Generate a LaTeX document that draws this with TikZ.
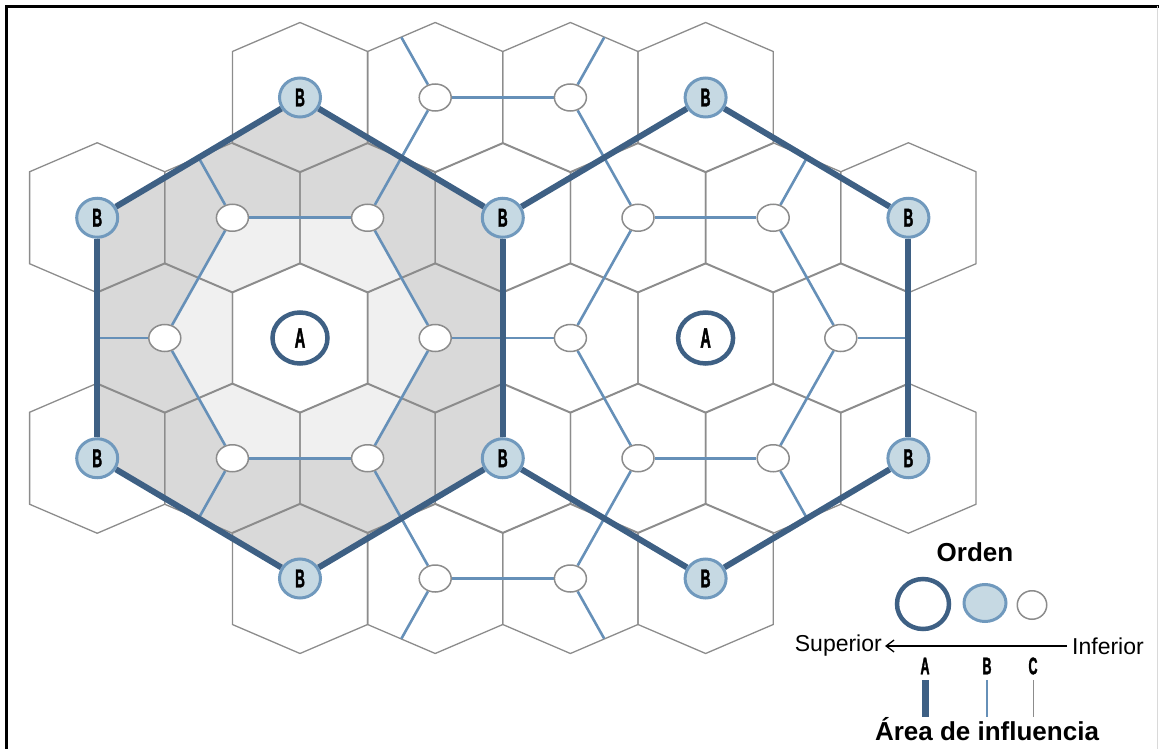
\documentclass[tikz,border=0pt]{standalone}
\usepackage{fontspec}
\setmainfont{Liberation Sans}
\newfontfamily\placefont[FakeStretch=0.52,FakeBold=1.4]{Liberation Sans}
\usetikzlibrary{arrows.meta,shapes.geometric}
\definecolor{areablue}{HTML}{3E6084}
\definecolor{netblue}{HTML}{6690B8}
\definecolor{bfill}{HTML}{C6D9E3}
\definecolor{bedge}{HTML}{7099BD}
\definecolor{cellgray}{HTML}{8C8C8C}
\definecolor{shadedark}{HTML}{D9D9D9}
\definecolor{shadelight}{HTML}{F0F0F0}
\pgfdeclarelayer{shade}
\pgfdeclarelayer{grid}
\pgfdeclarelayer{links}
\pgfsetlayers{shade,grid,links,main}
\tikzset{
  cell/.style={cellgray,line width=1.3pt},
  netline/.style={netblue,line width=2.6pt},
  arealine/.style={areablue,line width=6pt},
  aplace/.style={ellipse,draw=areablue,line width=4.5pt,fill=white,
    minimum width=55pt,minimum height=51pt,inner sep=0pt,
    font=\placefont\bfseries\fontsize{28}{28}\selectfont},
  bplace/.style={ellipse,draw=bedge,line width=3pt,fill=bfill,
    minimum width=41pt,minimum height=39pt,inner sep=0pt,
    font=\placefont\bfseries\fontsize{26}{26}\selectfont},
  cplace/.style={ellipse,draw=cellgray,line width=1.5pt,fill=white,
    minimum width=32pt,minimum height=27pt,inner sep=0pt},
  legtxt/.style={inner sep=0pt,font=\fontsize{23}{23}\selectfont},
  legbold/.style={inner sep=0pt,font=\bfseries\fontsize{26}{26}\selectfont},
  legletter/.style={inner sep=0pt,font=\placefont\bfseries\fontsize{24}{24}\selectfont}
}

\begin{document}
\begin{tikzpicture}[x=1pt,y=-1pt]
  \useasboundingbox (0,0) rectangle (1159,749);
  % frame, cut by the page edge
  \draw[line width=3.5pt] (6.5,749) -- (6.5,6.5) -- (1159,6.5);
  \draw[black!15,line width=1pt] (1157.5,6.5) -- (1157.5,749);

  \begin{scope}[shift={(300,338)},x=67.6pt,y=-120.25pt]
    % places of order A, B and C
    \foreach \nm/\i/\j in {aL/0/0,aR/6/0}
      \node[aplace] (\nm) at (\i,\j) {A};
    \foreach \nm/\i/\j in {bT1/0/-2,bL1/-3/-1,bM1/3/-1,bL2/-3/1,bM2/3/1,
        bB1/0/2,bT2/6/-2,bR1/9/-1,bR2/9/1,bB2/6/2}
      \node[bplace] (\nm) at (\i,\j) {B};
    \foreach \nm/\i/\j in {c1/2/-2,c2/4/-2,c3/-1/-1,c4/1/-1,c5/5/-1,c6/7/-1,
        c7/-2/0,c8/2/0,c9/4/0,c10/8/0,c11/-1/1,c12/1/1,c13/5/1,c14/7/1,
        c15/2/2,c16/4/2}
      \node[cplace] (\nm) at (\i,\j) {};
    % loose ends of the B network
    \foreach \nm/\i/\j in {e1/1.5/-2.5,e2/4.5/-2.5,e3/-1.5/-1.5,e6/7.5/-1.5,
        e7/-3/0,e10/9/0,e11/-1.5/1.5,e14/7.5/1.5,e15/1.5/2.5,e16/4.5/2.5}
      \coordinate (\nm) at (\i,\j);

    \begin{pgfonlayer}{shade}
      \fill[shadedark] (0,-2) -- (3,-1) -- (3,1) -- (0,2) -- (-3,1) -- (-3,-1) -- cycle;
      \fill[shadelight] (-1,-1) -- (1,-1) -- (2,0) -- (1,1) -- (-1,1) -- (-2,0) -- cycle;
      \fill[white] (0,-0.6237) -- ++(1,0.2412) -- ++(0,0.765) -- ++(-1,0.2412)
        -- ++(-1,-0.2412) -- ++(0,-0.765) -- cycle;
    \end{pgfonlayer}

    % C cells
    \begin{pgfonlayer}{grid}
      \foreach \i/\j in {0/-2,2/-2,4/-2,6/-2,
          -3/-1,-1/-1,1/-1,3/-1,5/-1,7/-1,9/-1,
          -2/0,0/0,2/0,4/0,6/0,8/0,
          -3/1,-1/1,1/1,3/1,5/1,7/1,9/1,
          0/2,2/2,4/2,6/2}
        \draw[cell] (\i,\j-0.6237) -- ++(1,0.2412) -- ++(0,0.765) -- ++(-1,0.2412)
          -- ++(-1,-0.2412) -- ++(0,-0.765) -- cycle;
    \end{pgfonlayer}

    \begin{pgfonlayer}{links}
      \foreach \a/\b in {c1/c2,c1/c4,c2/c5,c3/c4,c3/c7,c4/c8,c5/c6,c5/c9,
          c6/c10,c8/c9,c7/c11,c8/c12,c9/c13,c10/c14,c11/c12,c12/c15,
          c13/c14,c13/c16,c15/c16,
          c1/e1,c2/e2,c3/e3,c6/e6,c7/e7,c10/e10,c11/e11,c14/e14,c15/e15,c16/e16}
        \draw[netline] (\a) -- (\b);
      \foreach \a/\b in {bT1/bM1,bM1/bM2,bM2/bB1,bB1/bL2,bL2/bL1,bL1/bT1,
          bM1/bT2,bT2/bR1,bR1/bR2,bR2/bB2,bB2/bM2}
        \draw[arealine] (\a) -- (\b);
    \end{pgfonlayer}
  \end{scope}

  % legend
  \node[legbold] (orden) at (975,552) {Orden};
  \node[aplace,minimum width=52pt,minimum height=50pt] (kA) at (923,604) {};
  \node[bplace,minimum width=42pt,minimum height=37pt] (kB) at (985,603) {};
  \node[cplace,minimum width=29.5pt,minimum height=28.5pt] (kC) at (1032,605) {};
  \node[legtxt,anchor=east] (sup) at (882,646) {Superior};
  \node[legtxt,anchor=west] (inf) at (1072,646) {Inferior};
  \draw[-{Straight Barb[length=8pt,width=12pt]},line width=1.3pt]
    ([xshift=-5pt]inf.west) -- ([xshift=3pt]sup.east);
  \node[legletter] (lA) at (925,666) {A};
  \node[legletter] (lB) at (987,666) {B};
  \node[legletter] (lC) at (1033,666) {C};
  \node[legbold] (area) at (987,729) {Área de influencia};
  \draw[arealine,line width=7pt] (925,680) -- (925,717);
  \draw[netline] (987,680) -- (987,717);
  \draw[cell,line width=1pt] (1033,680) -- (1033,717);
\end{tikzpicture}
\end{document}
